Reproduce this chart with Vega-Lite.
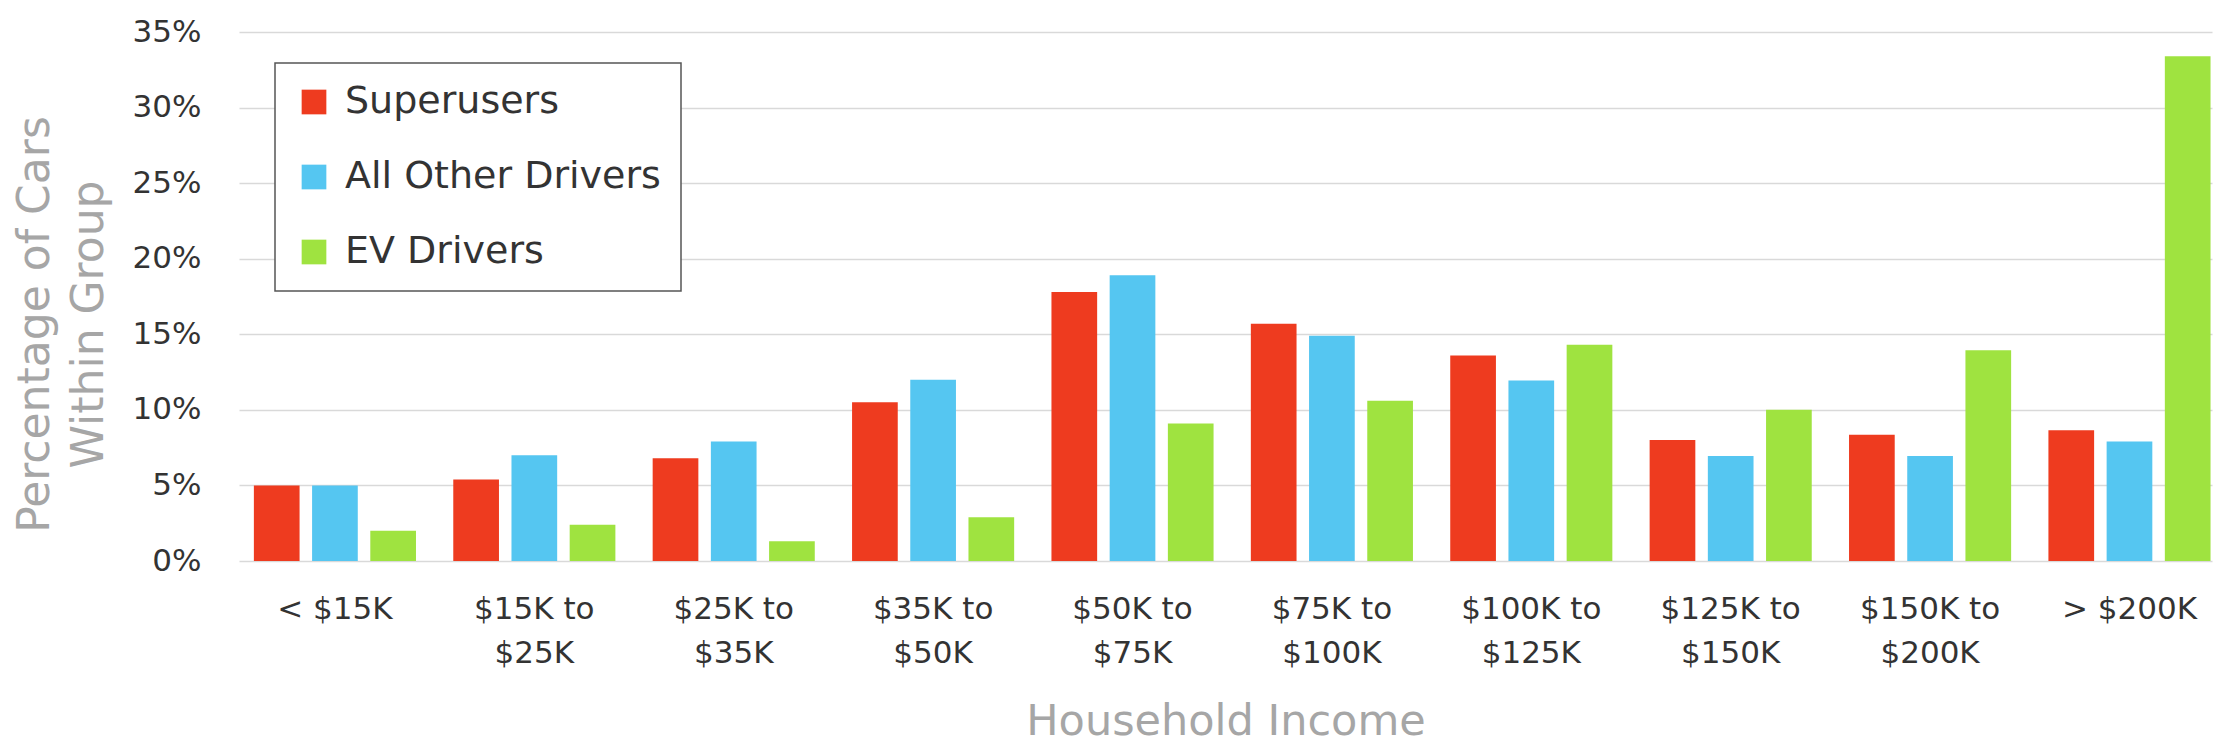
{
  "$schema": "https://vega.github.io/schema/vega-lite/v6.json",
  "autosize": {"type": "none"},
  "padding": {"left": 239, "top": 32, "right": 4, "bottom": 190},
  "width": 1973,
  "height": 529,
  "background": "white",
  "data": {
    "values": [
      {"income": "< $15K", "group": "Superusers", "pct": 5.0},
      {"income": "< $15K", "group": "All Other Drivers", "pct": 5.0},
      {"income": "< $15K", "group": "EV Drivers", "pct": 2.0},
      {"income": "$15K to $25K", "group": "Superusers", "pct": 5.4},
      {"income": "$15K to $25K", "group": "All Other Drivers", "pct": 7.0},
      {"income": "$15K to $25K", "group": "EV Drivers", "pct": 2.4},
      {"income": "$25K to $35K", "group": "Superusers", "pct": 6.8},
      {"income": "$25K to $35K", "group": "All Other Drivers", "pct": 7.9},
      {"income": "$25K to $35K", "group": "EV Drivers", "pct": 1.3},
      {"income": "$35K to $50K", "group": "Superusers", "pct": 10.5},
      {"income": "$35K to $50K", "group": "All Other Drivers", "pct": 12.0},
      {"income": "$35K to $50K", "group": "EV Drivers", "pct": 2.9},
      {"income": "$50K to $75K", "group": "Superusers", "pct": 17.8},
      {"income": "$50K to $75K", "group": "All Other Drivers", "pct": 18.9},
      {"income": "$50K to $75K", "group": "EV Drivers", "pct": 9.1},
      {"income": "$75K to $100K", "group": "Superusers", "pct": 15.7},
      {"income": "$75K to $100K", "group": "All Other Drivers", "pct": 14.9},
      {"income": "$75K to $100K", "group": "EV Drivers", "pct": 10.6},
      {"income": "$100K to $125K", "group": "Superusers", "pct": 13.6},
      {"income": "$100K to $125K", "group": "All Other Drivers", "pct": 11.95},
      {"income": "$100K to $125K", "group": "EV Drivers", "pct": 14.3},
      {"income": "$125K to $150K", "group": "Superusers", "pct": 8.0},
      {"income": "$125K to $150K", "group": "All Other Drivers", "pct": 6.95},
      {"income": "$125K to $150K", "group": "EV Drivers", "pct": 10.0},
      {"income": "$150K to $200K", "group": "Superusers", "pct": 8.35},
      {"income": "$150K to $200K", "group": "All Other Drivers", "pct": 6.95},
      {"income": "$150K to $200K", "group": "EV Drivers", "pct": 13.95},
      {"income": "> $200K", "group": "Superusers", "pct": 8.65},
      {"income": "> $200K", "group": "All Other Drivers", "pct": 7.9},
      {"income": "> $200K", "group": "EV Drivers", "pct": 33.4}
    ]
  },
  "config": {
    "font": "DejaVu Sans",
    "view": {"stroke": null}
  },
  "mark": {"type": "bar"},
  "encoding": {
    "x": {
      "field": "income",
      "type": "nominal",
      "sort": null,
      "scale": {"paddingInner": 0.187, "paddingOuter": 0.041, "align": 0.91},
      "axis": {
        "title": "Household Income",
        "titleFont": "DejaVu Sans",
        "titleFontSize": 43,
        "titleFontWeight": "normal",
        "titleColor": "#a6a6a6",
        "titlePadding": 32,
        "labelAngle": 0,
        "labelFontSize": 31,
        "labelColor": "#333333",
        "labelLineHeight": 44,
        "labelPadding": 33,
        "labelBaseline": "top",
        "labelExpr": "indexof(datum.value, ' to ') > 0 ? [slice(datum.value, 0, indexof(datum.value, ' to ') + 3), slice(datum.value, indexof(datum.value, ' to ') + 4)] : datum.value",
        "domain": false,
        "ticks": false,
        "grid": false
      }
    },
    "xOffset": {
      "field": "group",
      "type": "nominal",
      "sort": ["Superusers", "All Other Drivers", "EV Drivers"],
      "scale": {"paddingInner": 0.215, "paddingOuter": 0}
    },
    "y": {
      "field": "pct",
      "type": "quantitative",
      "scale": {"domain": [0, 35], "nice": false},
      "axis": {
        "values": [0, 5, 10, 15, 20, 25, 30, 35],
        "labelExpr": "datum.value + '%'",
        "title": ["Percentage of Cars", "Within Group"],
        "titleFont": "DejaVu Sans",
        "titleFontSize": 44,
        "titleFontWeight": "normal",
        "titleColor": "#a6a6a6",
        "titleLineHeight": 54,
        "titlePadding": 21,
        "titleY": 292,
        "labelFontSize": 31,
        "labelColor": "#333333",
        "labelPadding": 38,
        "domain": false,
        "ticks": false,
        "grid": true,
        "gridColor": "#d9d9d9",
        "gridWidth": 1.5
      }
    },
    "color": {
      "field": "group",
      "type": "nominal",
      "sort": ["Superusers", "All Other Drivers", "EV Drivers"],
      "scale": {
        "domain": ["Superusers", "All Other Drivers", "EV Drivers"],
        "range": ["#ee3b1f", "#55c6f1", "#9fe340"]
      },
      "legend": {
        "title": null,
        "orient": "none",
        "legendX": 36,
        "legendY": 31,
        "symbolType": "square",
        "symbolSize": 610,
        "symbolStrokeWidth": 0,
        "labelFontSize": 38,
        "labelLimit": 600,
        "labelColor": "#333333",
        "labelOffset": 12,
        "rowPadding": 37,
        "padding": 20,
        "strokeColor": "#555555",
        "fillColor": "white",
        "encode": {"legend": {"update": {"strokeWidth": {"value": 1.5}}}}
      }
    }
  }
}
